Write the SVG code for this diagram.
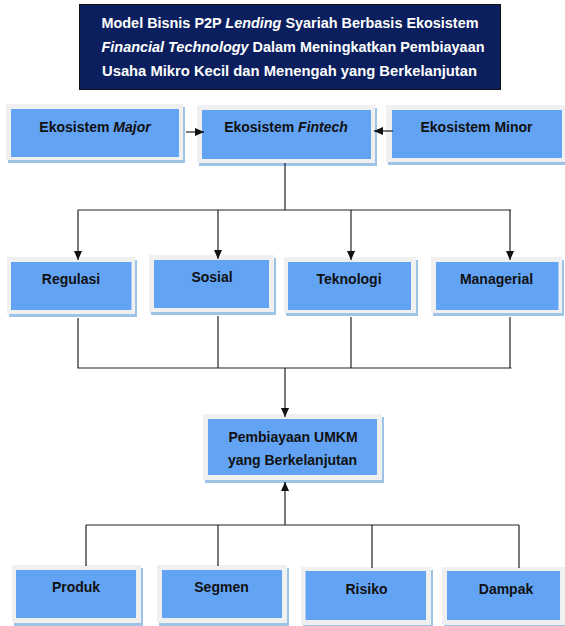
<svg xmlns="http://www.w3.org/2000/svg" width="565" height="626" viewBox="0 0 565 626">
  <defs>
    <marker id="arrow" viewBox="0 0 10 10" refX="10" refY="5" markerWidth="9" markerHeight="9" markerUnits="userSpaceOnUse" orient="auto">
      <path d="M0,0.5 L10,5 L0,9.5 z" fill="#111"/>
    </marker>
    <style>
      .shadow { fill: #9dc3e6; }
      .frame { fill: #f0f0f0; }
      .box { fill: #63a3f4; }
      .label { font-family: "Liberation Sans", Arial, sans-serif; font-size: 14px; font-weight: bold; fill: #111; text-anchor: middle; }
      .title { font-family: "Liberation Sans", Arial, sans-serif; font-size: 14px; font-weight: bold; fill: #fff; text-anchor: middle; }
      .conn { fill: none; stroke: #222; stroke-width: 1.2; }
    </style>
  </defs>

  <rect width="565" height="626" fill="#fff"/>

  <!-- title banner -->
  <g id="title">
    <rect x="79.5" y="4.5" width="421" height="85" fill="#0b1f5e" stroke="#111" stroke-width="1"/>
    <text class="title" x="290" y="28" textLength="377" lengthAdjust="spacingAndGlyphs">Model Bisnis P2P <tspan font-style="italic">Lending</tspan> Syariah Berbasis Ekosistem</text>
    <text class="title" x="293" y="52" textLength="383" lengthAdjust="spacingAndGlyphs"><tspan font-style="italic">Financial Technology</tspan> Dalam Meningkatkan Pembiayaan</text>
    <text class="title" x="289.5" y="76" textLength="375" lengthAdjust="spacingAndGlyphs">Usaha Mikro Kecil dan Menengah yang Berkelanjutan</text>
  </g>

  <!-- top row -->
  <g id="ekosistem-major">
    <rect class="shadow" x="8" y="107" width="177" height="56"/>
    <rect class="frame" x="6" y="104" width="177" height="56"/>
    <rect class="box" x="11" y="109" width="168" height="48"/>
    <text class="label" x="95" y="132">Ekosistem <tspan font-style="italic">Major</tspan></text>
  </g>
  <g id="ekosistem-fintech">
    <rect class="shadow" x="199" y="108" width="178" height="58"/>
    <rect class="frame" x="197" y="105" width="178" height="58"/>
    <rect class="box" x="202" y="110" width="169" height="49"/>
    <text class="label" x="286" y="132">Ekosistem <tspan font-style="italic">Fintech</tspan></text>
  </g>
  <g id="ekosistem-minor">
    <rect class="shadow" x="388" y="108" width="179" height="57"/>
    <rect class="frame" x="386" y="105" width="179" height="57"/>
    <rect class="box" x="392" y="110" width="170" height="48"/>
    <text class="label" x="476.5" y="132">Ekosistem Minor</text>
  </g>

  <!-- middle row -->
  <g id="regulasi">
    <rect class="shadow" x="9" y="260" width="128" height="57"/>
    <rect class="frame" x="7" y="257" width="128" height="57"/>
    <rect class="box" x="11" y="262" width="120.5" height="48"/>
    <text class="label" x="71" y="284">Regulasi</text>
  </g>
  <g id="sosial">
    <rect class="shadow" x="151" y="258" width="125" height="57"/>
    <rect class="frame" x="149" y="255" width="125" height="57"/>
    <rect class="box" x="154" y="260" width="115" height="48"/>
    <text class="label" x="212" y="282">Sosial</text>
  </g>
  <g id="teknologi">
    <rect class="shadow" x="286" y="260" width="132" height="56"/>
    <rect class="frame" x="284" y="257" width="132" height="56"/>
    <rect class="box" x="288" y="262" width="123" height="48"/>
    <text class="label" x="349" y="284">Teknologi</text>
  </g>
  <g id="managerial">
    <rect class="shadow" x="433" y="260" width="131" height="56"/>
    <rect class="frame" x="431" y="257" width="131" height="56"/>
    <rect class="box" x="436" y="262" width="122.5" height="48"/>
    <text class="label" x="496.5" y="284">Managerial</text>
  </g>

  <!-- outcome -->
  <g id="pembiayaan-umkm">
    <rect class="shadow" x="205" y="417" width="179" height="66"/>
    <rect class="frame" x="203" y="414" width="179" height="66"/>
    <rect class="box" x="208" y="419" width="169" height="56"/>
    <text class="label" x="293" y="442">Pembiayaan UMKM</text>
    <text class="label" x="292.5" y="465">yang Berkelanjutan</text>
  </g>

  <!-- bottom row -->
  <g id="produk">
    <rect class="shadow" x="14" y="568" width="129" height="58"/>
    <rect class="frame" x="12" y="565" width="129" height="58"/>
    <rect class="box" x="16" y="570" width="120" height="48"/>
    <text class="label" x="76" y="592">Produk</text>
  </g>
  <g id="segmen">
    <rect class="shadow" x="159" y="568" width="130" height="58"/>
    <rect class="frame" x="157" y="565" width="130" height="58"/>
    <rect class="box" x="162" y="570" width="120" height="48"/>
    <text class="label" x="221.5" y="592">Segmen</text>
  </g>
  <g id="risiko">
    <rect class="shadow" x="303" y="570" width="130" height="58"/>
    <rect class="frame" x="301" y="567" width="130" height="58"/>
    <rect class="box" x="305.5" y="571" width="120.5" height="49"/>
    <text class="label" x="366.5" y="594">Risiko</text>
  </g>
  <g id="dampak">
    <rect class="shadow" x="444" y="570" width="123" height="58"/>
    <rect class="frame" x="442" y="567" width="123" height="58"/>
    <rect class="box" x="447" y="571" width="113" height="49"/>
    <text class="label" x="506" y="594">Dampak</text>
  </g>

  <!-- connectors, drawn over the box frames -->
  <g id="connectors">
    <path class="conn" d="M186,132 H204" marker-end="url(#arrow)"/>
    <path class="conn" d="M393,131 H374" marker-end="url(#arrow)"/>
    <path class="conn" d="M285,163 V210 M78,210 H511"/>
    <path class="conn" d="M78,210 V260" marker-end="url(#arrow)"/>
    <path class="conn" d="M218,210 V259" marker-end="url(#arrow)"/>
    <path class="conn" d="M351,210 V260" marker-end="url(#arrow)"/>
    <path class="conn" d="M510,210 V260" marker-end="url(#arrow)"/>
    <path class="conn" d="M78,318 V368 M218,316 V368 M351,317 V368 M510,317 V368 M77.5,368 H511.5"/>
    <path class="conn" d="M285,368 V417" marker-end="url(#arrow)"/>
    <path class="conn" d="M285,525 V482" marker-end="url(#arrow)"/>
    <path class="conn" d="M86,525 H519 M86,525 V566 M218,525 V566 M372,525 V568 M519,525 V568"/>
  </g>
</svg>
